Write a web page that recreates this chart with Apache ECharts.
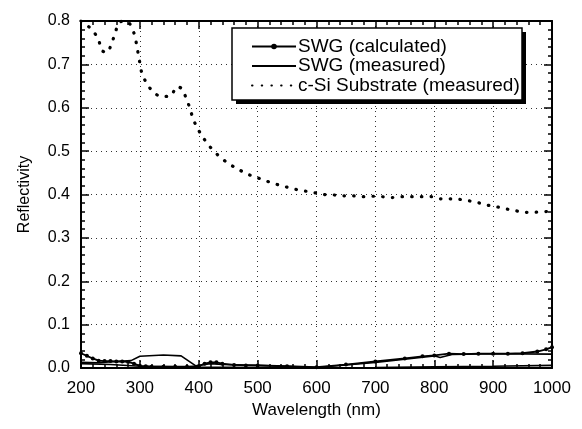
<!DOCTYPE html>
<html><head><meta charset="utf-8">
<script src="https://cdn.jsdelivr.net/npm/echarts@6/dist/echarts.min.js"></script>
<style>html,body{margin:0;padding:0;background:#fff}#c{width:582px;height:429px}</style>
</head><body><div id="c"></div>
<script>
var xTicks = [200, 300, 400, 500, 600, 700, 800, 900, 1000];
var yTicks = [0.0, 0.1, 0.2, 0.3, 0.4, 0.5, 0.6, 0.7, 0.8];

var siX = [200,210,220,230,235,244,252,258,264,272,282,290,294,297,300,303,310,321,336,352,363,372,379,385,390,397,407,419,434,450,466,483,499,515,531,547,564,580,597,613,629,646,662,678,695,711,728,744,760,777,794,808,825,841,856,872,888,905,921,937,952,968,984,1000];
var siY = [0.800,0.790,0.778,0.756,0.733,0.727,0.749,0.772,0.795,0.800,0.795,0.772,0.749,0.726,0.703,0.682,0.660,0.639,0.626,0.627,0.649,0.643,0.620,0.599,0.576,0.555,0.532,0.510,0.489,0.472,0.459,0.447,0.439,0.431,0.424,0.418,0.412,0.408,0.404,0.400,0.399,0.397,0.397,0.395,0.396,0.395,0.393,0.395,0.395,0.395,0.395,0.390,0.390,0.389,0.386,0.382,0.376,0.372,0.367,0.363,0.359,0.359,0.360,0.362];

var calcX = [200,210,220,230,240,250,260,270,280,290,300,310,320,340,360,380,400,410,420,430,440,460,480,500,550,600,650,700,750,780,800,825,850,875,900,925,950,975,990,1000];
var calcY = [0.034,0.028,0.022,0.017,0.016,0.016,0.015,0.015,0.014,0.010,0.005,0.004,0.003,0.003,0.003,0.003,0.004,0.010,0.013,0.013,0.010,0.007,0.006,0.006,0.004,0.002,0.008,0.015,0.022,0.027,0.029,0.033,0.032,0.033,0.033,0.033,0.034,0.038,0.043,0.048];

var measX = [200,230,260,285,300,340,370,395,420,440,500,600,700,800,810,830,900,1000];
var measY = [0.013,0.012,0.015,0.017,0.027,0.030,0.028,0.005,0.010,0.008,0.006,0.001,0.013,0.028,0.024,0.031,0.033,0.032];

var meas2X = [200,250,300,400,500,600,700,800,900,1000];
var meas2Y = [0.010,0.008,0.004,0.002,0.001,0.000,0.001,0.003,0.004,0.006];

function pairs(xs, ys){ return xs.map(function(x,i){ return [x, ys[i]]; }); }

var chart = echarts.init(document.getElementById('c'));
var FONT = '"Liberation Sans", Arial, sans-serif';
var gridLine = {show:true, lineStyle:{color:'#333', width:1, type:[1,4]}};
var axisLineS = {show:true, onZero:false, lineStyle:{color:'#000', width:2}};
var tickS = {show:true, inside:true, length:8, lineStyle:{color:'#000', width:1.5}};
var minorS = {show:true, splitNumber:5, length:4, lineStyle:{color:'#000', width:1.5}};
chart.setOption({
  animation:false,
  backgroundColor:'#fff',
  grid:{left:81, right:30, top:21, bottom:61},
  graphic:[
    {type:'rect', shape:{x:236, y:32, width:290, height:72}, style:{fill:'#000'}, z:90},
    {type:'rect', shape:{x:232, y:28, width:290, height:72}, style:{fill:'#fff', stroke:'#000', lineWidth:1.5}, z:91}
  ],
  legend:{
    data:[
      {name:'SWG (calculated)'},
      {name:'SWG (measured)', itemStyle:{opacity:0}},
      {name:'c-Si Substrate (measured)', itemStyle:{opacity:0}}
    ],
    orient:'vertical', left:233, top:28, z:100,
    padding:[9,8,6,18], itemWidth:44, itemHeight:7, itemGap:0.5,
    textStyle:{fontFamily:FONT, fontSize:19, color:'#000', lineHeight:19, padding:[0,0,0,-3]}
  },
  xAxis:[{
    type:'value', min:200, max:1000, interval:100,
    name:'Wavelength (nm)', nameLocation:'middle', nameGap:28,
    nameTextStyle:{fontFamily:FONT, fontSize:17, color:'#000'},
    axisLine:axisLineS, axisTick:tickS, minorTick:minorS,
    axisLabel:{fontFamily:FONT, fontSize:17, color:'#000', margin:12,
      formatter:function(v){ return xTicks.indexOf(v) >= 0 ? String(v) : ''; }},
    splitLine:gridLine
  },{
    type:'value', position:'top', min:200, max:1000, interval:100,
    axisLine:axisLineS, axisTick:tickS, minorTick:minorS,
    axisLabel:{show:false}, splitLine:{show:false}
  }],
  yAxis:[{
    type:'value', min:0, max:0.8, interval:0.1,
    name:'Reflectivity', nameLocation:'middle', nameGap:48, nameRotate:90,
    nameTextStyle:{fontFamily:FONT, fontSize:16, color:'#000'},
    axisLine:axisLineS, axisTick:tickS, minorTick:minorS,
    axisLabel:{fontFamily:FONT, fontSize:16, color:'#000', margin:11,
      formatter:function(v){ return v.toFixed(1); }},
    splitLine:gridLine
  },{
    type:'value', position:'right', min:0, max:0.8, interval:0.1,
    axisLine:axisLineS, axisTick:tickS, minorTick:minorS,
    axisLabel:{show:false}, splitLine:{show:false}
  }],
  series:[{
    name:'SWG (calculated)', type:'line', data:pairs(calcX, calcY),
    symbol:'circle', symbolSize:4, showAllSymbol:true,
    lineStyle:{color:'#000', width:1.8}, itemStyle:{color:'#000'}, z:5
  },{
    name:'SWG (measured)', type:'line', data:pairs(measX, measY),
    symbol:'none', lineStyle:{color:'#000', width:1.6}, itemStyle:{color:'#000'}
  },{
    name:'SWG (measured) b', type:'line', data:pairs(meas2X, meas2Y),
    symbol:'none', lineStyle:{color:'#000', width:1.6}, itemStyle:{color:'#000'}
  },{
    name:'c-Si Substrate (measured)', type:'line', data:pairs(siX, siY),
    symbol:'none', smooth:0.3,
    lineStyle:{color:'#000', width:3.2, type:[0.5,9.2], cap:'round'}, itemStyle:{color:'#000'}
  }]
});
</script></body></html>
